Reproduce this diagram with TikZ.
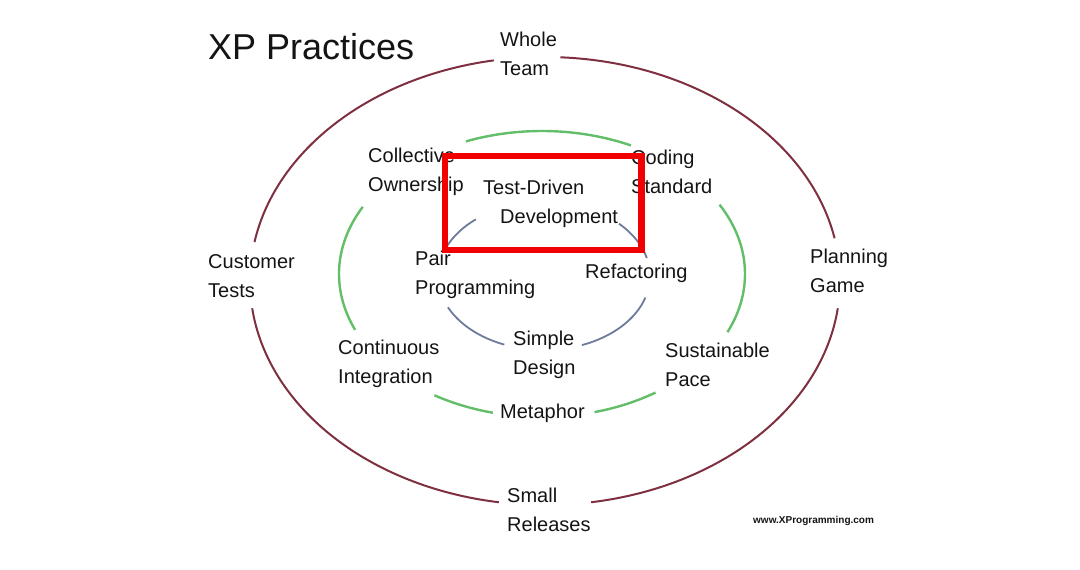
\documentclass[tikz,border=0pt]{standalone}
\usepackage{fontspec}
\setmainfont{Liberation Sans}
\usepackage{xcolor}
\usepackage{tikz}
\usetikzlibrary{positioning}
\definecolor{ink}{HTML}{141414}
\definecolor{maroon}{HTML}{7E3040}
\definecolor{leaf}{HTML}{62BE68}
\definecolor{slate}{HTML}{6E7A9A}
\definecolor{signal}{HTML}{F00000}
\tikzset{
  x=1pt, y=-1pt,
  font=\fontsize{20}{29}\selectfont,
  lbl/.style    = {anchor=west, align=left, inner sep=0pt, text=ink},
  outring/.style = {draw=maroon, line width=2pt},
  midring/.style = {draw=leaf, line width=2.4pt},
  inring/.style  = {draw=slate, line width=1.8pt},
  hilite/.style  = {draw=signal, line width=6.5pt},
}

\begin{document}
\begin{tikzpicture}

\useasboundingbox (0,0) rectangle (1080,570);

% ---- centres of the three rings ---------------------------------------
\coordinate (oc) at (545,281);
\coordinate (mc) at (542,274);
\coordinate (ic) at (544,276);

% ---- outer ring: team level -------------------------------------------
\draw[outring] (oc) ++(-87:295 and 224) arc[start angle=-87, end angle=-11, x radius=295, y radius=224];
\draw[outring] (oc) ++(7:295 and 224)   arc[start angle=7,   end angle=81,  x radius=295, y radius=224];
\draw[outring] (oc) ++(99:295 and 224)  arc[start angle=99,  end angle=173, x radius=295, y radius=224];
\draw[outring] (oc) ++(190:295 and 224) arc[start angle=190, end angle=260, x radius=295, y radius=224];

% ---- middle ring: team practices --------------------------------------
\draw[midring] (mc) ++(248:203 and 143) arc[start angle=248, end angle=296, x radius=203, y radius=143];
\draw[midring] (mc) ++(-29:203 and 143) arc[start angle=-29, end angle=24,  x radius=203, y radius=143];
\draw[midring] (mc) ++(56:203 and 143)  arc[start angle=56,  end angle=75,  x radius=203, y radius=143];
\draw[midring] (mc) ++(104:203 and 143) arc[start angle=104, end angle=122, x radius=203, y radius=143];
\draw[midring] (mc) ++(157:203 and 143) arc[start angle=157, end angle=208, x radius=203, y radius=143];

% ---- inner ring: programmer practices ---------------------------------
\draw[inring] (ic) ++(203:106 and 74) arc[start angle=203, end angle=230, x radius=106, y radius=74];
\draw[inring] (ic) ++(-45:106 and 74) arc[start angle=-45, end angle=-14, x radius=106, y radius=74];
\draw[inring] (ic) ++(17:106 and 74)  arc[start angle=17,  end angle=69,  x radius=106, y radius=74];
\draw[inring] (ic) ++(112:106 and 74) arc[start angle=112, end angle=155, x radius=106, y radius=74];

% ---- labels -----------------------------------------------------------
\node[lbl, font=\fontsize{36}{36}\selectfont] (title) at (208,47) {XP Practices};
\node[lbl] (whole) at (500,54)    {Whole\\Team};
\node[lbl] (coll)  at (368,171.5) {Collective\\Ownership};
\node[lbl] (tdd)   at (483,204)   {Test-Driven\\\hspace*{17pt}Development};
\node[lbl] (code)  at (631,171.5) {Coding\\Standard};
\node[lbl] (cust)  at (208,276.5) {Customer\\Tests};
\node[lbl] (pair)  at (415,274.5) {Pair\\Programming};
\node[lbl] (refac) at (585,273)   {Refactoring};
\node[lbl] (plan)  at (810,271)   {Planning\\Game};
\node[lbl] (simple) at (513,354.5) {Simple\\Design};
\node[lbl] (cont)  at (338,364)   {Continuous\\Integration};
\node[lbl] (sust)  at (665,364.5) {Sustainable\\Pace};
\node[lbl] (meta)  at (500,413)   {Metaphor};
\node[lbl] (small) at (507,510)   {Small\\Releases};
\node[lbl, font=\fontsize{10}{10}\selectfont\bfseries] (web) at (753,521) {www.XProgramming.com};

% ---- highlight round test-driven development --------------------------
\draw[hilite] (445,156) rectangle (641.5,250);

\end{tikzpicture}
\end{document}
